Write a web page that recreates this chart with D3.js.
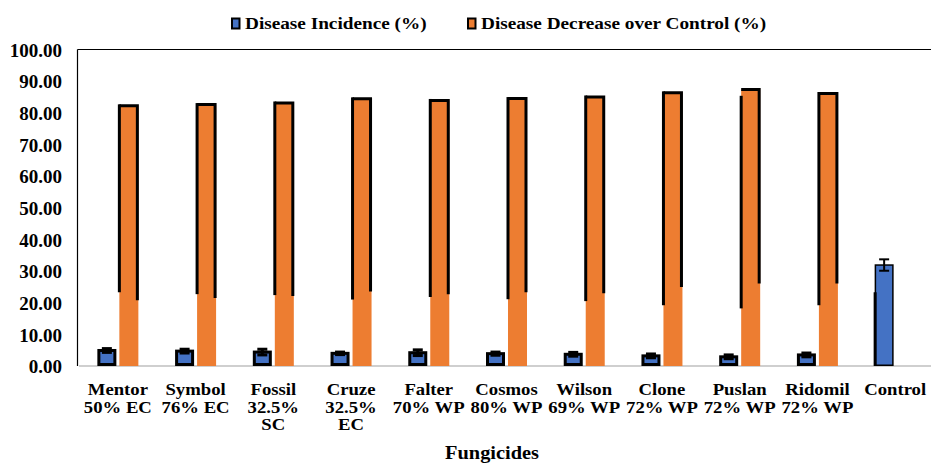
<!DOCTYPE html>
<html><head><meta charset="utf-8">
<script src="https://cdn.jsdelivr.net/npm/d3@7"></script>
<style>body{margin:0;background:#fff}svg{display:block}</style>
</head><body>
<svg id="c" width="931" height="463"></svg>
<script>
const categories = ["Mentor\n50% EC", "Symbol\n76% EC", "Fossil\n32.5%\nSC", "Cruze\n32.5%\nEC", "Falter\n70% WP", "Cosmos\n80% WP", "Wilson\n69% WP", "Clone\n72% WP", "Puslan\n72% WP", "Ridomil\n72% WP", "Control"];
const seriesNames = ["Disease Incidence (%)", "Disease Decrease over Control (%)"];
const incidence = [4.9, 4.7, 4.4, 4.0, 4.2, 3.9, 3.7, 3.2, 2.9, 3.5, 31.9];
const incidenceErr = [0.6, 0.6, 0.9, 0.4, 0.9, 0.5, 0.6, 0.6, 0.6, 0.6, 1.8];
const incidenceLeftLine = [null, null, null, null, null, null, null, null, null, null, 23.3];
const decrease = [82.2, 82.6, 83.1, 84.4, 83.9, 84.5, 85.0, 86.3, 87.4, 86.1, 0];
const decreaseOutlineLeftTop = [82.2, 82.6, 83.1, 84.4, 83.9, 84.5, 85.0, 86.3, 84.9, 86.1, 0];
const decreaseOutlineLeftEnd = [23.3, 22.7, 22.4, 21.0, 21.8, 21.1, 20.5, 19.2, 18.2, 19.2, 0];
const decreaseOutlineRightEnd = [20.8, 21.5, 22.1, 23.5, 22.7, 23.3, 23.0, 25.0, 26.1, 26.1, 0];
const yTicks = [0, 10, 20, 30, 40, 50, 60, 70, 80, 90, 100];
const xTitle = "Fungicides";

const FONT = "'Liberation Serif', Tinos, 'Times New Roman', 'DejaVu Serif', serif";
const colors = ["#4472C4", "#ED7D31"];
const svg = d3.select("#c");
const x0 = d3.scaleBand().domain(categories).range([79, 934]).paddingInner(0).paddingOuter(0);
const x1 = d3.scaleBand().domain(seriesNames).range([-20.5, 20.5]).paddingInner(0.136).paddingOuter(0);
const y = d3.scaleLinear().domain([0, 100]).range([366, 49.5]);
const cx = c => x0(c) + x0.bandwidth() / 2;
const bw = x1.bandwidth();

function txt(sel) {
  return sel.attr("font-family", FONT).attr("font-weight", "bold").attr("fill", "#000");
}

// frame lines
svg.append("line").attr("x1", 77.5).attr("x2", 931).attr("y1", y(100)).attr("y2", y(100)).attr("stroke", "#000").attr("stroke-width", 1);
svg.append("line").attr("x1", 79).attr("x2", 931).attr("y1", y(0)).attr("y2", y(0)).attr("stroke", "#bfbfbf").attr("stroke-width", 1.5);
svg.append("line").attr("x1", 77.5).attr("x2", 77.5).attr("y1", y(100)).attr("y2", y(0)).attr("stroke", "#000").attr("stroke-width", 1.2);

// y tick labels
const yAxis = d3.axisLeft(y).tickValues(yTicks).tickFormat(d3.format(".2f")).tickSize(0).tickPadding(0);
const ya = svg.append("g").attr("transform", "translate(62,0)").call(yAxis);
ya.attr("font-family", FONT).attr("font-size", 19);
ya.select(".domain").remove();
txt(ya.selectAll("text")).attr("font-size", 19).attr("dy", "0.35em").attr("x", 0);

// orange bars
categories.forEach((c, i) => {
  if (decrease[i] <= 0) return;
  const xl = cx(c) + x1(seriesNames[1]);
  svg.append("rect").attr("x", xl).attr("y", y(decrease[i])).attr("width", bw).attr("height", y(0) - y(decrease[i])).attr("fill", colors[1]);
  svg.append("path").attr("d", `M${xl},${y(decrease[i])}L${xl + bw - 1},${y(decrease[i])}L${xl + bw - 1},${y(decreaseOutlineRightEnd[i])}`)
    .attr("fill", "none").attr("stroke", "#000").attr("stroke-width", 3);
  svg.append("path").attr("d", `M${xl},${y(decreaseOutlineLeftTop[i]) - 1.5}L${xl},${y(decreaseOutlineLeftEnd[i])}`)
    .attr("fill", "none").attr("stroke", "#000").attr("stroke-width", 3);
});

// blue bars
categories.forEach((c, i) => {
  const xl = cx(c) + x1(seriesNames[0]);
  const isThin = incidenceLeftLine[i] != null;
  const sw = isThin ? 1.5 : 3;
  svg.append("rect").attr("x", xl + sw / 2).attr("y", y(incidence[i])).attr("width", bw - sw).attr("height", y(0) - y(incidence[i]) - sw / 2)
    .attr("fill", colors[0]).attr("stroke", "#000").attr("stroke-width", sw);
  if (isThin) {
    svg.append("line").attr("x1", xl + 0.5).attr("x2", xl + 0.5).attr("y1", y(0)).attr("y2", y(incidenceLeftLine[i])).attr("stroke", "#000").attr("stroke-width", 3);
  }
  const ex = xl + bw / 2;
  const ew = 5;
  const g = svg.append("g").attr("stroke", "#000").attr("stroke-width", isThin ? 2 : 3);
  g.append("line").attr("x1", ex).attr("x2", ex).attr("y1", y(incidence[i] + incidenceErr[i])).attr("y2", y(incidence[i] - incidenceErr[i]));
  g.append("line").attr("x1", ex - ew).attr("x2", ex + ew).attr("y1", y(incidence[i] + incidenceErr[i])).attr("y2", y(incidence[i] + incidenceErr[i]));
  g.append("line").attr("x1", ex - ew).attr("x2", ex + ew).attr("y1", y(incidence[i] - incidenceErr[i])).attr("y2", y(incidence[i] - incidenceErr[i]));
});

// category labels
categories.forEach(c => {
  c.split("\n").forEach((ln, k) => {
    txt(svg.append("text")).attr("transform", `translate(${cx(c)},${395 + k * 17.7}) scale(1.1,1)`)
      .attr("text-anchor", "middle").attr("font-size", 17).text(ln);
  });
});

// x title
txt(svg.append("text")).attr("transform", `translate(492,459) scale(1.1,1)`).attr("text-anchor", "middle").attr("font-size", 18.5).text(xTitle);

// legend
const legX = [231, 467];
seriesNames.forEach((s, i) => {
  svg.append("rect").attr("x", legX[i] + 1).attr("y", 18.5).attr("width", 7.5).attr("height", 10).attr("fill", colors[i]).attr("stroke", "#000").attr("stroke-width", 2);
  txt(svg.append("text")).attr("transform", `translate(${legX[i] + 14},29) scale(1.1,1)`).attr("font-size", 17.5).text(s);
});
</script>
</body></html>
